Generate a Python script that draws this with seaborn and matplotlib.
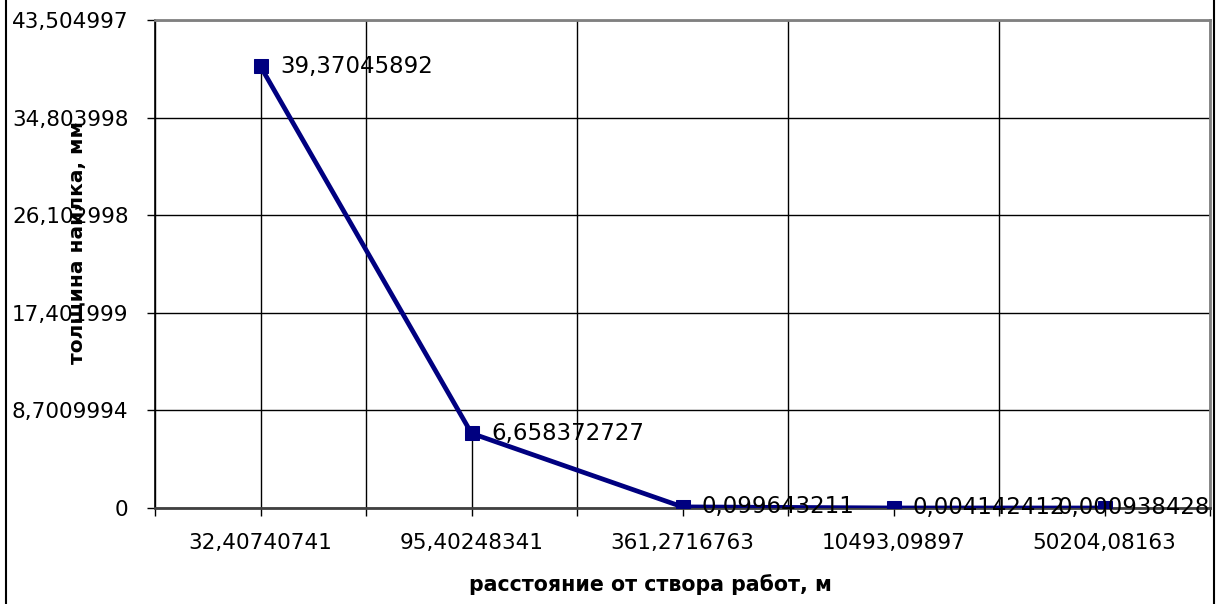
import numpy as np
import pandas as pd
import matplotlib
matplotlib.use('Agg')
import matplotlib.pyplot as plt
import seaborn as sns
from matplotlib.patches import Rectangle

# distance from the work site (category labels) and deposit thickness
categories = ['32,40740741', '95,40248341', '361,2716763', '10493,09897', '50204,08163']
thickness = [39.37045892, 6.658372727, 0.099643211, 0.004142412, 0.000938428]
point_labels = ['39,37045892', '6,658372727', '0,099643211', '0,004142412', '0,000938428']
y_ticks = [0, 8.7009994, 17.401999, 26.102998, 34.803998, 43.504997]
y_tick_labels = ['0', '8,7009994', '17,401999', '26,102998', '34,803998', '43,504997']

sns.set_theme(style='white')
plt.rcParams['font.family'] = ['DejaVu Sans']
plt.rcParams.update({'text.color': 'black', 'xtick.color': 'black',
                     'ytick.color': 'black', 'axes.labelcolor': 'black'})

df = pd.DataFrame({'pos': np.arange(len(categories)), 'thickness': thickness})

fig = plt.figure(figsize=(12.18, 6.04), dpi=100)
ax = fig.add_axes([155 / 1218, 1 - 508 / 604, (1210 - 155) / 1218, (508 - 20) / 604])

# drop lines from each point to the axis
ax.vlines(df['pos'], 0, df['thickness'], color='black', lw=1, zorder=2)

sns.lineplot(data=df, x='pos', y='thickness', ax=ax, color='#000080', lw=3.4,
             marker='s', markersize=10, markeredgecolor='#000080', zorder=4)

# data labels
n = len(categories)
for i, (x, y, lab) in enumerate(zip(df['pos'], df['thickness'], point_labels)):
    if i == n - 1:
        ax.text(n - 0.5, y, lab, ha='right', va='center', fontsize=16.5, zorder=5)
    else:
        ax.annotate(lab, (x, y), textcoords='offset points', xytext=(14, 0),
                    ha='left', va='center', fontsize=16.5, zorder=5)

ax.set_xlim(-0.5, n - 0.5)
ax.set_ylim(y_ticks[0], y_ticks[-1])
ax.set_yticks(y_ticks)
ax.set_yticklabels(y_tick_labels)
ax.set_xticks(df['pos'])
ax.set_xticklabels(categories)
ax.set_xticks(np.arange(n + 1) - 0.5, minor=True)

ax.grid(False)
ax.yaxis.grid(True, color='black', lw=1)
ax.xaxis.grid(True, which='minor', color='black', lw=1)
ax.set_axisbelow(True)

ax.tick_params(axis='y', which='major', left=True, length=6, width=1, color='black',
               pad=13, labelsize=15.5, direction='out')
ax.tick_params(axis='x', which='both', bottom=True, length=6, width=1, color='black',
               pad=12, labelsize=15.5, direction='out')

for side in ['top', 'right']:
    ax.spines[side].set_color('#808080')
    ax.spines[side].set_linewidth(2)
ax.spines['left'].set_color('black')
ax.spines['left'].set_linewidth(1.2)
ax.spines['bottom'].set_color('#404040')
ax.spines['bottom'].set_linewidth(2)

ax.set_xlabel('')
ax.set_ylabel('')
fig.text(650 / 1218, 1 - 585 / 604, 'расстояние от створа работ, м', ha='center', va='center',
         fontsize=14.8, fontweight='bold', color='black')
fig.text(78 / 1218, 1 - 243 / 604, 'толщина наилка, мм', ha='center', va='center',
         rotation=90, fontsize=14.5, fontweight='bold', color='black')

# outer chart frame
fig.patches.append(Rectangle((6 / 1218, -0.02), (1214 - 6) / 1218, 1.04, transform=fig.transFigure,
                             fill=False, edgecolor='black', lw=1.5))

fig.savefig('out.png', dpi=100)
